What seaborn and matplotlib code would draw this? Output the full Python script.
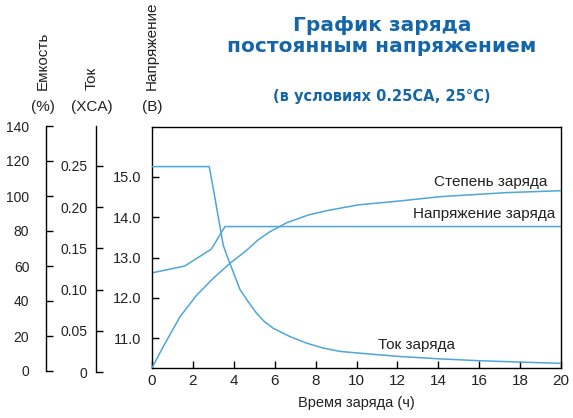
import matplotlib
matplotlib.use("Agg")
import matplotlib.pyplot as plt
import seaborn as sns
import pandas as pd
from matplotlib.ticker import FuncFormatter

sns.set_theme(style="ticks")
plt.rcParams['font.family'] = ['Liberation Sans', 'DejaVu Sans']

# ---- data ----
volt_hours = [0.0, 1.6, 2.9, 3.57, 20.0]
volt_values = [12.62, 12.79, 13.21, 13.77, 13.77]

curr_hours = [0.0, 2.8, 3.0, 3.24, 3.49, 3.68, 4.3, 4.71, 5.12, 5.5, 5.93, 6.74, 7.56, 8.37,
              9.18, 10.08, 12.0, 14.0, 16.0, 18.0, 20.0]
curr_values = [0.249, 0.249, 0.222, 0.188, 0.153, 0.140, 0.100, 0.085, 0.071, 0.061, 0.053,
               0.043, 0.035, 0.029, 0.025, 0.023, 0.019, 0.016, 0.0137, 0.012, 0.0105]

cap_hours = [0.0, 0.55, 1.37, 2.19, 3.0, 3.81, 4.63, 5.2, 5.77, 6.59, 7.64, 8.54, 10.09,
             12.0, 14.1, 17.3, 20.0]
cap_values = [1.8, 13.9, 31.0, 43.4, 53.0, 61.5, 69.0, 75.0, 79.6, 84.7, 89.1, 91.6, 94.9,
              97.0, 99.6, 101.9, 103.0]

x_ticks = [0, 2, 4, 6, 8, 10, 12, 14, 16, 18, 20]
volt_ticks = [11.0, 12.0, 13.0, 14.0, 15.0]
curr_ticks = [0, 0.05, 0.10, 0.15, 0.20, 0.25]
cap_ticks = [0, 20, 40, 60, 80, 100, 120, 140]

title_lines = "График заряда\nпостоянным напряжением"
subtitle = "(в условиях 0.25CA, 25°C)"
x_label = "Время заряда (ч)"
curve_labels = ["Степень заряда", "Напряжение заряда", "Ток заряда"]

line_color = "#4ea6da"
title_color = "#1566a8"
text_color = "#222222"

W, H = 573, 418
fig = plt.figure(figsize=(W / 100, H / 100), dpi=100)


def frac_rect(left, top, right, bottom):
    return [left / W, 1 - bottom / H, (right - left) / W, (bottom - top) / H]


# main axes (voltage)
ax = fig.add_axes(frac_rect(152, 127, 561, 368))
ax_cap = ax.twinx()
ax_cur = ax.twinx()

df_v = pd.DataFrame({"h": volt_hours, "v": volt_values})
df_c = pd.DataFrame({"h": curr_hours, "v": curr_values})
df_q = pd.DataFrame({"h": cap_hours, "v": cap_values})

sns.lineplot(data=df_v, x="h", y="v", ax=ax, color=line_color, lw=1.1)
sns.lineplot(data=df_c, x="h", y="v", ax=ax_cur, color=line_color, lw=1.1)
sns.lineplot(data=df_q, x="h", y="v", ax=ax_cap, color=line_color, lw=1.1)

ax.set_xlim(0, 20)
ax.set_ylim(10.26, 16.24)
ax_cur.set_ylim(0.00485, 0.297)
ax_cap.set_ylim(1.71, 139.4)

for a in (ax_cap, ax_cur):
    a.set_axis_off()

ax.set_xticks(x_ticks)
ax.set_yticks(volt_ticks)
ax.yaxis.set_major_formatter(FuncFormatter(lambda v, p: f"{v:.1f}"))
ax.set_xlabel(x_label, fontsize=10.5, color=text_color, labelpad=6)
ax.set_ylabel("")
ax.tick_params(axis="y", direction="in", length=5, width=1, pad=8, labelsize=10.5,
               labelcolor=text_color, colors="black")
ax.tick_params(axis="x", direction="in", length=5, width=1, pad=4, labelsize=11,
               labelcolor=text_color, colors="black")
for s in ax.spines.values():
    s.set_color("black")
    s.set_linewidth(1.0)
    s.set_visible(True)

# current side axis
ax_i = fig.add_axes(frac_rect(96, 126, 97, 372))
ax_i.set_ylim(0, 0.2982)
ax_i.set_xticks([])
ax_i.set_yticks(curr_ticks)
ax_i.yaxis.set_major_formatter(FuncFormatter(lambda v, p: "0" if v == 0 else f"{v:.2f}"))
ax_i.patch.set_visible(False)
for name, s in ax_i.spines.items():
    s.set_visible(name == "left")
ax_i.spines["left"].set_color("black")
ax_i.spines["left"].set_linewidth(1.0)
ax_i.tick_params(axis="y", direction="in", length=5, width=1, pad=6, labelsize=10,
                 labelcolor=text_color, colors="black")

# capacity side axis
ax_q = fig.add_axes(frac_rect(46, 126, 47, 371))
ax_q.set_ylim(0, 140)
ax_q.set_xticks([])
ax_q.set_yticks(cap_ticks)
ax_q.yaxis.set_major_formatter(FuncFormatter(lambda v, p: f"{int(v)}"))
ax_q.patch.set_visible(False)
for name, s in ax_q.spines.items():
    s.set_visible(name == "left")
ax_q.spines["left"].set_color("black")
ax_q.spines["left"].set_linewidth(1.0)
ax_q.tick_params(axis="y", direction="in", length=5, width=1, pad=12, labelsize=10,
                 labelcolor=text_color, colors="black")

# axis titles
def px(x, y):
    return x / W, 1 - y / H

for xc, word, unit in [(43, "Емкость", "(%)"), (92, "Ток", "(XCA)"), (152, "Напряжение", "(В)")]:
    fig.text(*px(xc, 90), word, rotation=90, ha="center", va="bottom", fontsize=11,
             color=text_color)
    fig.text(*px(xc, 107), unit, ha="center", va="center", fontsize=11, color=text_color)

# titles
title_font = ['DejaVu Sans']
fig.text(*px(382, 36), title_lines, ha="center", va="center", fontsize=14.5,
         fontweight="bold", color=title_color, linespacing=1.1, family=title_font)
fig.text(*px(382, 96), subtitle, ha="center", va="center", fontsize=10.5,
         fontweight="bold", color=title_color, family=title_font)

# curve labels
fig.text(*px(547, 182), curve_labels[0], ha="right", va="center", fontsize=11, color=text_color)
fig.text(*px(555, 214), curve_labels[1], ha="right", va="center", fontsize=11, color=text_color)
fig.text(*px(416, 345), curve_labels[2], ha="center", va="center", fontsize=11, color=text_color)

fig.savefig("out.png", dpi=100, facecolor="white")
